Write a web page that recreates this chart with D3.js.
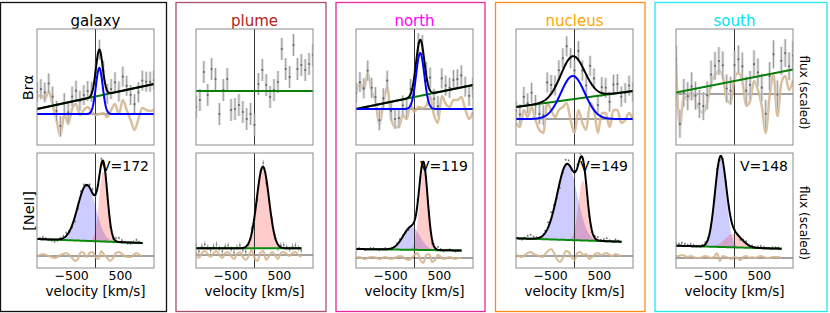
<!DOCTYPE html>
<html>
<head>
<meta charset="utf-8">
<script src="https://cdn.jsdelivr.net/npm/d3@7"></script>
<style>
  body { margin: 0; background: #fff; }
  svg { display: block; font-family: "DejaVu Sans", sans-serif; }
</style>
</head>
<body>
<div id="chart"></div>
<script>

// Regions, one column of two panels each (Br-alpha on top, [NeII] below)
var regions = ['galaxy', 'plume', 'north', 'nucleus', 'south'];
var velLabels = ['V=172', '', 'V=119', 'V=149', 'V=148'];
var tickVals = [-500, 500];

// velocity grids [km/s]
var brVel = [-1200, -1120, -1040, -960, -880, -800, -720, -640, -560, -480, -400,
  -320, -240, -160, -80, 0, 80, 160, 240, 320, 400, 480, 560, 640, 720, 800, 880,
  960, 1040, 1120, 1200];
var neVel = [-1200, -1140, -1080, -1020, -960, -900, -840, -780, -720, -660, -600,
  -540, -480, -420, -360, -300, -240, -180, -120, -60, 0, 60, 120, 180, 240, 300,
  360, 420, 480, 540, 600, 660, 720, 780, 840, 900, 960];

// Br-alpha: residuals (data - fit), plume only has raw data around a flat continuum
var galaxyBrResid = [1.7, 1.9, 1.5, 2.3, 0.9, -0.6, -2.2, 0.0, -1.0, 0.5, 1.0, -0.1, 0.4,
  0.7, 0.2, -0.1, 0.0, 0.1, -0.3, 0.4, 1.0, 0.0, 1.4, 0.4, -0.6, -1.6, -0.5, 0.6, 0.4, 0.3, 0.4];
var plumeBrData = [-1.6, -0.9, 1.9, -0.4, 2.2, 1.2, -2.3, 0.1, 1.2, -1.9, -1.8, -1.4, -2.1,
  -2.8, -2.3, -3.4, 0.7, 2.1, 0.6, -0.6, 0.1, 0.9, 4.2, 2.2, 1.4, 4.6, 2.2, 2.6, 2.1, 2.7, 3.6];
var northBrResid = [1.6, 2.6, 1.9, 3.6, 1.8, 0.8, -1.6, 0.5, 2.2, -0.9, -1.8, -1.8, -0.6,
  -1.0, 0.5, -0.3, 0.2, 0.1, 0.3, 1.3, -0.6, -1.4, 1.3, 0.5, 0.2, 0.9, 0.9, 1.2, 0.0, -1.0, -0.3];
var nucleusBrResid = [-0.4, -0.8, 0.9, 0.2, 1.2, -0.1, -1.1, -1.4, 1.6, 0.9, 0.2, 0.9, 1.2,
  1.6, -0.1, -1.4, 0.9, -0.4, -1.1, 1.6, 0.9, -1.4, 0.6, 0.6, -0.8, 0.9, 0.9, -0.4, -0.1, 0.6, -0.1];
var southBrResid = [3.3, -3.2, -0.2, -0.6, 0.3, -0.7, -1.6, -1.9, -0.9, 1.1, 1.9, 2.3, 1.8,
  -0.6, -0.9, 1.6, 2.1, 1.3, -1.2, -0.7, 1.3, 0.4, -1.2, -3.9, -0.2, 1.9, -2.2, 1.1, 1.8, 0.4, 1.4];

// Br-alpha fit: continuum at -1200 and +1200, gaussian (center, sigma, amplitude)
var brCont = [[0.5, 3.0], [0, 0], [0, 2.4], [1.2, 2.8], [0.15, 2.45]];
var brLine = [{c: 78, s: 70, a: 4.6}, null, {c: 117, s: 85, a: 5.6}, {c: -35, s: 245, a: 4.3}, null];
var brErr = [1.0, 1.1, 1.0, 1.0, 1.4];
var brDomain = [[-3.1, 8.5], [-5.4, 6.2], [-3.6, 8.0], [-2.6, 9.0], [-5.1, 6.5]];

// [NeII]: residuals
var galaxyNeResid = [0.0, 0.1, 0.2, 0.1, 0.0, -0.1, -0.2, -0.1, 0.1, 0.2, 0.3, 0.1, -0.2, -0.5,
  -0.3, 0.4, 0.3, -0.1, 0.3, 0.4, -0.1, -0.3, 0.5, 0.1, -0.2, -0.5, -0.2, 0.3, 0.4, 0.2, 0.0,
  -0.1, -0.1, 0.1, 0.3, 0.1, 0.0];
var plumeNeResid = [0.3, -0.3, 0.2, 0.4, 0.1, -0.2, 0.2, 0.4, 0.0, -0.3, 0.2, 0.3, -0.1, -0.4,
  0.1, 0.3, -0.2, -0.5, -0.1, 0.5, -0.3, -0.6, 0.2, 0.4, -0.5, -0.1, 0.3, 0.0, -0.4, 0.2, 0.3,
  0.1, -0.1, 0.2, 0.3, 0.0, -0.2];
var northNeResid = [0.0, 0.1, 0.0, -0.1, 0.0, 0.1, 0.1, 0.0, -0.1, 0.0, 0.1, 0.0, -0.1, 0.0,
  0.1, 0.2, 0.1, -0.1, -0.2, 0.0, 0.3, 0.5, -0.2, -0.5, 0.3, 0.4, -0.4, -0.2, 0.3, 0.1, -0.1,
  0.0, 0.1, 0.0, -0.1, 0.0, 0.0];
var nucleusNeResid = [0.1, 0.0, -0.1, 0.1, 0.3, 0.4, 0.2, 0.1, 0.0, -0.1, 0.2, 0.5, 0.7, 0.3,
  -0.3, -0.6, -0.2, 0.5, 0.4, -0.1, -0.4, 0.3, 0.4, 0.1, 0.2, -0.3, -0.1, 0.2, 0.3, 0.1, 0.2,
  0.3, 0.1, 0.0, 0.2, 0.1, 0.0];
var southNeResid = [0.2, 0.2, 0.3, 0.2, 0.1, 0.2, 0.1, 0.0, 0.0, 0.1, 0.2, 0.1, 0.0, 0.1, 0.5,
  -0.3, 0.2, 0.1, 0.0, -0.1, 0.1, 0.0, -0.2, 0.1, 0.2, 0.0, 0.1, 0.0, 0.1, 0.2, 0.1, 0.0, 0.0,
  0.1, 0.1, 0.1, 0.0];

// [NeII] fit: continuum at -1200 and +960, blue and red components
var neCont = [[1.7, 1.3], [0.67, 0.67], [0.9, 0.75], [1.77, 1.43], [1.23, 0.93]];
var neBlue = [{c: -180, s: 185, a: 5.6}, null, {c: -60, s: 170, a: 2.3}, {c: -150, s: 203, a: 7.6}, {c: -287, s: 115, a: 8.7}];
var neRed = [{c: 160, s: 85, a: 7.0}, {c: 172, s: 125, a: 8.16}, {c: 185, s: 85, a: 8.0}, {c: 170, s: 90, a: 6.0}, {c: -20, s: 170, a: 1.35}];
var neErr = [0.15, 0.3, 0.1, 0.1, 0.15];
var neDomain = [[-1.2, 10.3], [-1.3, 10.2], [-1.0, 10.5], [-1.2, 10.3], [-1.0, 10.5]];

var brResid = [galaxyBrResid, null, northBrResid, nucleusBrResid, southBrResid];
var neResid = [galaxyNeResid, plumeNeResid, northNeResid, nucleusNeResid, southNeResid];

// styling
var titleColors = ['#000000', '#b22222', '#ff00ff', '#ffa500', '#00e5ee'];
var frameColors = ['#111111', '#a8506a', '#e8289a', '#ff8c1a', '#22e6ee'];

var svgWidth = 830;
var svgHeight = 313;
var panelW = 117;
var colX = [37, 196, 356, 516, 676];
var top1 = 29, bot1 = 145, top2 = 153, bot2 = 268;
// frame extents relative to the panel column
var frameL = [36.5, 20, 20, 20.5, 21];
var frameR = [12.5, 13, 12, 12, 34];

var svg = d3.select('#chart').append('svg')
  .attr('width', svgWidth)
  .attr('height', svgHeight);

var gauss = function(p, v) {
  if (!p) return 0;
  var t = (v - p.c) / p.s;
  return p.a * Math.exp(-0.5 * t * t);
};
var linCont = function(c, v0, v1, v) {
  return c[0] + (c[1] - c[0]) * (v - v0) / (v1 - v0);
};

var fineBr = d3.range(-1200, 1201, 8);
var fineNe = d3.range(-1200, 961, 8);
var defs = svg.append('defs');

regions.forEach(function(name, i) {
  var x0 = colX[i];
  var x = d3.scaleLinear().domain([-1200, 1200]).range([x0, x0 + panelW]);
  var yT = d3.scaleLinear().domain(brDomain[i]).range([bot1, top1]);
  var yB = d3.scaleLinear().domain(neDomain[i]).range([bot2, top2]);

  // frame around the column
  svg.append('rect')
    .attr('x', x0 - frameL[i]).attr('y', 2.5)
    .attr('width', frameL[i] + panelW + frameR[i]).attr('height', 309)
    .attr('fill', 'none')
    .attr('stroke', frameColors[i])
    .attr('stroke-width', 1.3);

  svg.append('text')
    .attr('x', x0 + panelW / 2).attr('y', 25.5)
    .attr('text-anchor', 'middle')
    .attr('font-size', '15px')
    .attr('fill', titleColors[i])
    .text(name);

  ['T', 'B'].forEach(function(k) {
    defs.append('clipPath').attr('id', 'clip' + k + i)
      .append('rect')
      .attr('x', x0).attr('y', k === 'T' ? top1 : top2)
      .attr('width', panelW).attr('height', k === 'T' ? bot1 - top1 : bot2 - top2);
  });

  // ---------------- Br-alpha panel ----------------
  var gT = svg.append('g').attr('clip-path', 'url(#clipT' + i + ')');
  var brModel = function(v) {
    return linCont(brCont[i], -1200, 1200, v) + gauss(brLine[i], v);
  };
  var brPts = brVel.map(function(v, j) {
    var val = brResid[i] ? brModel(v) + brResid[i][j] : plumeBrData[j];
    return {v: v, f: val};
  });

  if (brResid[i]) {
    gT.append('line')
      .attr('x1', x0).attr('x2', x0 + panelW)
      .attr('y1', yT(0)).attr('y2', yT(0))
      .attr('stroke', '#444').attr('stroke-width', 1);
  }
  gT.append('line')
    .attr('x1', x(0)).attr('x2', x(0))
    .attr('y1', top1).attr('y2', bot1)
    .attr('stroke', '#333').attr('stroke-width', 1);

  if (brResid[i]) {
    gT.append('path')
      .datum(brVel.map(function(v, j) { return [v, brResid[i][j]]; }))
      .attr('fill', 'none')
      .attr('stroke', '#d2b48c')
      .attr('stroke-width', 2.5)
      .attr('opacity', 0.85)
      .attr('d', d3.line().curve(d3.curveMonotoneX)
        .x(function(d) { return x(d[0]); })
        .y(function(d) { return yT(d[1]); }));
  }

  gT.selectAll('rect.band').data(brPts).enter()
    .append('rect').attr('class', 'band')
    .attr('x', function(d) { return x(d.v) - 1.5; })
    .attr('y', function(d) { return yT(d.f + brErr[i]); })
    .attr('width', 3)
    .attr('height', function(d) { return yT(d.f - brErr[i]) - yT(d.f + brErr[i]); })
    .attr('fill', '#d8d8d8')
    .attr('opacity', 0.8);
  gT.selectAll('line.err').data(brPts).enter()
    .append('line').attr('class', 'err')
    .attr('x1', function(d) { return x(d.v); })
    .attr('x2', function(d) { return x(d.v); })
    .attr('y1', function(d) { return yT(d.f + brErr[i]); })
    .attr('y2', function(d) { return yT(d.f - brErr[i]); })
    .attr('stroke', '#8a8a8a').attr('stroke-width', 0.8);
  gT.selectAll('circle').data(brPts).enter()
    .append('circle')
    .attr('cx', function(d) { return x(d.v); })
    .attr('cy', function(d) { return yT(d.f); })
    .attr('r', 1.1)
    .attr('fill', '#666');

  var brLineGen = function(fn) {
    return d3.line()
      .x(function(v) { return x(v); })
      .y(function(v) { return yT(fn(v)); });
  };
  gT.append('path').datum(fineBr)
    .attr('fill', 'none').attr('stroke', '#0a7d0a').attr('stroke-width', 2)
    .attr('d', brLineGen(function(v) { return linCont(brCont[i], -1200, 1200, v); }));
  if (brLine[i]) {
    gT.append('path').datum(fineBr)
      .attr('fill', 'none').attr('stroke', '#000').attr('stroke-width', 2)
      .attr('d', brLineGen(brModel));
    gT.append('path').datum(fineBr)
      .attr('fill', 'none').attr('stroke', '#0000ff').attr('stroke-width', 2)
      .attr('d', brLineGen(function(v) { return gauss(brLine[i], v); }));
  }

  svg.append('rect')
    .attr('x', x0).attr('y', top1)
    .attr('width', panelW).attr('height', bot1 - top1)
    .attr('fill', 'none').attr('stroke', '#8c8c8c').attr('stroke-width', 1);

  // ---------------- [NeII] panel ----------------
  var gB = svg.append('g').attr('clip-path', 'url(#clipB' + i + ')');
  var cont = function(v) { return linCont(neCont[i], -1200, 960, v); };
  var neModel = function(v) {
    return cont(v) + gauss(neBlue[i], v) + gauss(neRed[i], v);
  };
  var nePts = neVel.map(function(v, j) {
    return {v: v, f: neModel(v) + neResid[i][j]};
  });

  [[neBlue[i], 'rgba(0,0,255,0.2)'], [neRed[i], 'rgba(255,0,0,0.2)']].forEach(function(c) {
    if (!c[0]) return;
    gB.append('path').datum(fineNe)
      .attr('fill', c[1])
      .attr('d', d3.area()
        .x(function(v) { return x(v); })
        .y0(function(v) { return yB(cont(v)); })
        .y1(function(v) { return yB(cont(v) + gauss(c[0], v)); }));
  });

  gB.append('line')
    .attr('x1', x0).attr('x2', x0 + panelW)
    .attr('y1', yB(0)).attr('y2', yB(0))
    .attr('stroke', '#444').attr('stroke-width', 1);
  gB.append('line')
    .attr('x1', x(0)).attr('x2', x(0))
    .attr('y1', top2).attr('y2', bot2)
    .attr('stroke', '#333').attr('stroke-width', 1);

  gB.append('path')
    .datum(neVel.map(function(v, j) { return [v, neResid[i][j]]; }))
    .attr('fill', 'none')
    .attr('stroke', '#d2b48c')
    .attr('stroke-width', 2.2)
    .attr('opacity', 0.85)
    .attr('d', d3.line().curve(d3.curveMonotoneX)
      .x(function(d) { return x(d[0]); })
      .y(function(d) { return yB(d[1]); }));

  gB.selectAll('line.err').data(nePts).enter()
    .append('line').attr('class', 'err')
    .attr('x1', function(d) { return x(d.v); })
    .attr('x2', function(d) { return x(d.v); })
    .attr('y1', function(d) { return yB(d.f + neErr[i]); })
    .attr('y2', function(d) { return yB(d.f - neErr[i]); })
    .attr('stroke', '#999').attr('stroke-width', 0.8);
  gB.selectAll('circle').data(nePts).enter()
    .append('circle')
    .attr('cx', function(d) { return x(d.v); })
    .attr('cy', function(d) { return yB(d.f); })
    .attr('r', 0.9)
    .attr('fill', '#777');

  var neLineGen = function(fn) {
    return d3.line()
      .x(function(v) { return x(v); })
      .y(function(v) { return yB(fn(v)); });
  };
  gB.append('path').datum(fineNe)
    .attr('fill', 'none').attr('stroke', '#0a8a0a').attr('stroke-width', 2)
    .attr('d', neLineGen(cont));
  gB.append('path').datum(fineNe)
    .attr('fill', 'none').attr('stroke', '#000').attr('stroke-width', 2)
    .attr('d', neLineGen(neModel));

  svg.append('rect')
    .attr('x', x0).attr('y', top2)
    .attr('width', panelW).attr('height', bot2 - top2)
    .attr('fill', 'none').attr('stroke', '#8c8c8c').attr('stroke-width', 1);

  if (velLabels[i]) {
    svg.append('text')
      .attr('x', x0 + panelW - 5).attr('y', 171)
      .attr('text-anchor', 'end')
      .attr('font-size', '14px')
      .text(velLabels[i]);
  }

  var axis = svg.append('g')
    .attr('transform', 'translate(0,' + bot2 + ')')
    .call(d3.axisBottom(x)
      .tickValues(tickVals)
      .tickSize(0)
      .tickPadding(3.5)
      .tickFormat(function(d) { return d < 0 ? '\u2212' + Math.abs(d) : String(d); }));
  axis.select('.domain').remove();
  axis.selectAll('text')
    .attr('font-size', '12.5px')
    .attr('font-family', '"DejaVu Sans", sans-serif')
    .attr('fill', '#000');

  svg.append('text')
    .attr('x', x0 + panelW / 2).attr('y', 295.5)
    .attr('text-anchor', 'middle')
    .attr('font-size', '13.5px')
    .text('velocity [km/s]');
});

// row labels on the left and right
svg.append('text')
  .attr('transform', 'translate(33,87.5) rotate(-90)')
  .attr('text-anchor', 'middle')
  .attr('font-size', '14.5px')
  .text('Br\u03b1');
svg.append('text')
  .attr('transform', 'translate(33.5,211) rotate(-90)')
  .attr('text-anchor', 'middle')
  .attr('font-size', '14.5px')
  .text('[NeII]');
[92.5, 223].forEach(function(cy) {
  svg.append('text')
    .attr('transform', 'translate(800,' + cy + ') rotate(90)')
    .attr('text-anchor', 'middle')
    .attr('font-size', '12px')
    .text('flux (scaled)');
});

</script>
</body>
</html>
